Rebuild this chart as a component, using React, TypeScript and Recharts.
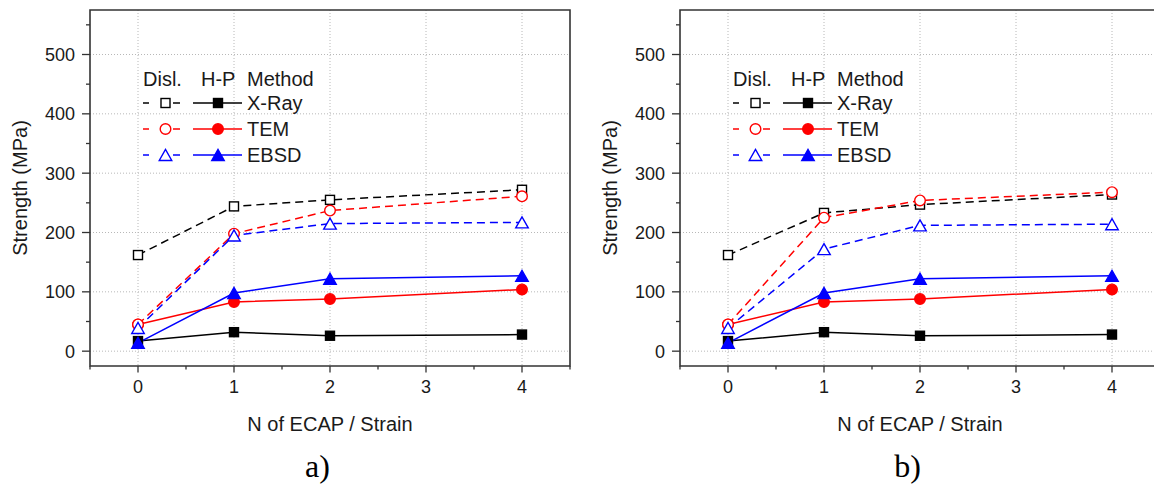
import React from 'react'
import {
  LineChart,
  Line,
  XAxis,
  YAxis,
  CartesianGrid,
  ReferenceArea,
} from 'recharts'

// N of ECAP passes on the x axis
const nValues = [0, 1, 2, 4]

// Hall-Petch estimates, same in both panels
const hpXray = [17, 32, 26, 28]
const hpTem = [45, 83, 88, 104]
const hpEbsd = [14, 98, 122, 127]

// dislocation based estimates, panel a)
const dislXrayA = [162, 244, 255, 272]
const dislTemA = [45, 198, 237, 261]
const dislEbsdA = [39, 195, 215, 217]

// dislocation based estimates, panel b)
const dislXrayB = [162, 233, 247, 264]
const dislTemB = [45, 225, 254, 268]
const dislEbsdB = [39, 172, 212, 214]

const xTicks = [-0.5, 0, 0.5, 1, 1.5, 2, 2.5, 3, 3.5, 4, 4.5]
const yTicks = [0, 50, 100, 150, 200, 250, 300, 350, 400, 450, 500, 550]
const xGrid = [0, 1, 2, 3, 4]
const yGrid = [0, 100, 200, 300, 400, 500]

const legendRows = [
  { method: 'X-Ray', shape: 'square', color: '#000000' },
  { method: 'TEM', shape: 'circle', color: '#ff0000' },
  { method: 'EBSD', shape: 'triangle', color: '#0000ff' },
]

const FONT = '"Liberation Sans", Arial, sans-serif'
const AXIS = '#333333'

type Shape = 'square' | 'circle' | 'triangle'

function Marker({
  cx,
  cy,
  shape,
  color,
  filled,
}: {
  cx: number
  cy: number
  shape: Shape
  color: string
  filled: boolean
}) {
  const fill = filled ? color : '#ffffff'
  if (shape === 'square') {
    const s = 9
    return (
      <rect x={cx - s / 2} y={cy - s / 2} width={s} height={s} fill={fill} stroke={color} strokeWidth={1.4} />
    )
  }
  if (shape === 'circle') {
    return <circle cx={cx} cy={cy} r={5.3} fill={fill} stroke={color} strokeWidth={1.4} />
  }
  const w = 12.5
  const h = 11
  return (
    <polygon
      points={`${cx - w / 2},${cy + h / 2} ${cx + w / 2},${cy + h / 2} ${cx},${cy - h / 2}`}
      fill={fill}
      stroke={color}
      strokeWidth={1.4}
      strokeLinejoin="miter"
    />
  )
}

const dotFor = (shape: Shape, color: string, filled: boolean) => (p: any) => {
  if (p.cx == null || p.cy == null) return <g key={p.index} />
  return <Marker key={p.index} cx={p.cx} cy={p.cy} shape={shape} color={color} filled={filled} />
}

function XTick({ x, y, payload }: any) {
  const major = Number.isInteger(payload.value)
  return (
    <g>
      <line x1={x} x2={x} y1={y} y2={y + (major ? 6.5 : 3.5)} stroke={AXIS} strokeWidth={1.3} />
      {major && (
        <text x={x} y={y + 27} textAnchor="middle" fontSize={18} fill="#1a1a1a" fontFamily={FONT}>
          {payload.value}
        </text>
      )}
    </g>
  )
}

function YTick({ x, y, payload }: any) {
  const major = payload.value % 100 === 0
  return (
    <g>
      <line x1={x} x2={x - (major ? 8 : 4)} y1={y} y2={y} stroke={AXIS} strokeWidth={1.3} />
      {major && (
        <text x={x - 15} y={y} dy="0.36em" textAnchor="end" fontSize={18} fill="#1a1a1a" fontFamily={FONT}>
          {payload.value}
        </text>
      )}
    </g>
  )
}

function MethodLegend() {
  const rowY = [103, 129, 155]
  return (
    <svg
      width={380}
      height={180}
      style={{ position: 'absolute', left: 0, top: 0, pointerEvents: 'none', overflow: 'visible' }}
    >
      <g fontFamily={FONT} fontSize={20} fill="#1a1a1a">
        <text x={143} y={79} dy="0.36em">Disl.</text>
        <text x={201} y={79} dy="0.36em">H-P</text>
        <text x={247} y={79} dy="0.36em">Method</text>
      </g>
      {legendRows.map((r, i) => {
        const y = rowY[i]
        const shape = r.shape as Shape
        return (
          <g key={r.method}>
            <line x1={143} x2={149} y1={y} y2={y} stroke={r.color} strokeWidth={1.5} />
            <line x1={173} x2={180} y1={y} y2={y} stroke={r.color} strokeWidth={1.5} />
            <Marker cx={165.5} cy={y} shape={shape} color={r.color} filled={false} />
            <line x1={193} x2={242} y1={y} y2={y} stroke={r.color} strokeWidth={1.5} />
            <Marker cx={218} cy={y} shape={shape} color={r.color} filled />
            <text x={247} y={y} dy="0.36em" fontFamily={FONT} fontSize={20} fill="#1a1a1a">
              {r.method}
            </text>
          </g>
        )
      })}
    </svg>
  )
}

function StrengthPanel({
  dislXray,
  dislTem,
  dislEbsd,
  tag,
  left,
}: {
  dislXray: number[]
  dislTem: number[]
  dislEbsd: number[]
  tag: string
  left: number
}) {
  const data = nValues.map((n, i) => ({
    n,
    dislXray: dislXray[i],
    dislTem: dislTem[i],
    dislEbsd: dislEbsd[i],
    hpXray: hpXray[i],
    hpTem: hpTem[i],
    hpEbsd: hpEbsd[i],
  }))

  const dash = '8 5'

  return (
    <div style={{ position: 'absolute', left, top: 0, width: 590, height: 486 }}>
      <LineChart
        width={590}
        height={486}
        data={data}
        margin={{ top: 10, right: 20, bottom: 0, left: 0 }}
        style={{ fontFamily: FONT }}
      >
        <CartesianGrid
          horizontalValues={yGrid}
          verticalValues={xGrid}
          stroke="#b8b8b8"
          strokeDasharray="1 2"
          strokeWidth={1}
        />
        <XAxis
          dataKey="n"
          type="number"
          domain={[-0.5, 4.5]}
          ticks={xTicks}
          interval={0}
          height={120}
          tickSize={0}
          tickMargin={0}
          tickLine={false}
          axisLine={false}
          tick={<XTick />}
          label={{
            value: 'N of ECAP / Strain',
            position: 'insideBottom',
            offset: 55,
            fontSize: 20,
            fill: '#1a1a1a',
            fontFamily: FONT,
          }}
        />
        <YAxis
          type="number"
          domain={[-25, 575]}
          ticks={yTicks}
          interval={0}
          width={90}
          tickSize={0}
          tickMargin={0}
          tickLine={false}
          axisLine={false}
          tick={<YTick />}
          label={{
            value: 'Strength (MPa)',
            angle: -90,
            position: 'insideLeft',
            offset: 20,
            fontSize: 20,
            fill: '#1a1a1a',
            fontFamily: FONT,
            style: { textAnchor: 'middle' },
          }}
        />
        <ReferenceArea
          x1={-0.5}
          x2={4.5}
          y1={-25}
          y2={575}
          fill="none"
          fillOpacity={0}
          stroke={AXIS}
          strokeWidth={1.6}
        />
        <Line
          dataKey="hpXray"
          stroke="#000000"
          strokeWidth={1.5}
          dot={dotFor('square', '#000000', true)}
          activeDot={false}
          isAnimationActive={false}
        />
        <Line
          dataKey="hpTem"
          stroke="#ff0000"
          strokeWidth={1.5}
          dot={dotFor('circle', '#ff0000', true)}
          activeDot={false}
          isAnimationActive={false}
        />
        <Line
          dataKey="hpEbsd"
          stroke="#0000ff"
          strokeWidth={1.5}
          dot={dotFor('triangle', '#0000ff', true)}
          activeDot={false}
          isAnimationActive={false}
        />
        <Line
          dataKey="dislXray"
          stroke="#000000"
          strokeWidth={1.5}
          strokeDasharray={dash}
          dot={dotFor('square', '#000000', false)}
          activeDot={false}
          isAnimationActive={false}
        />
        <Line
          dataKey="dislTem"
          stroke="#ff0000"
          strokeWidth={1.5}
          strokeDasharray={dash}
          dot={dotFor('circle', '#ff0000', false)}
          activeDot={false}
          isAnimationActive={false}
        />
        <Line
          dataKey="dislEbsd"
          stroke="#0000ff"
          strokeWidth={1.5}
          strokeDasharray={dash}
          dot={dotFor('triangle', '#0000ff', false)}
          activeDot={false}
          isAnimationActive={false}
        />
      </LineChart>
      <MethodLegend />
      <div
        style={{
          position: 'absolute',
          left: 317.5 - 40,
          width: 80,
          top: 448,
          textAlign: 'center',
          fontFamily: '"Liberation Serif", "Times New Roman", serif',
          fontSize: 32,
          lineHeight: '36px',
          color: '#000',
        }}
      >
        {tag}
      </div>
    </div>
  )
}

export default function App() {
  return (
    <div
      style={{
        position: 'absolute',
        left: 0,
        top: 0,
        width: 1154,
        height: 486,
        overflow: 'hidden',
        background: '#ffffff',
      }}
    >
      <StrengthPanel dislXray={dislXrayA} dislTem={dislTemA} dislEbsd={dislEbsdA} tag="a)" left={0} />
      <StrengthPanel dislXray={dislXrayB} dislTem={dislTemB} dislEbsd={dislEbsdB} tag="b)" left={590} />
    </div>
  )
}
